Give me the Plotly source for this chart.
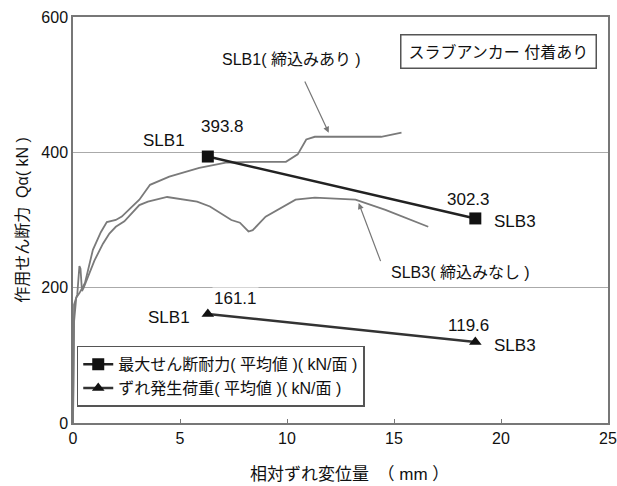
import plotly.graph_objects as go

# Load-slip curves
slb1_x = [0, 0.05, 0.15, 0.3, 0.56, 0.93, 1.3, 1.58, 2.0, 2.28, 2.7, 3.1, 3.6, 4.5, 5.9, 7.2, 8.5, 9.95, 10.5, 10.9, 11.3, 12.5, 14.4, 15.35]
slb1_q = [0, 150, 185, 192, 207, 256, 282, 297, 300, 305, 318, 330, 352, 364, 377, 385, 386, 386, 397, 419, 423, 423, 423, 429]

slb3_x = [0, 0.05, 0.2, 0.3, 0.35, 0.42, 0.5, 0.7, 1.0, 1.4, 1.7, 2.0, 2.4, 3.1, 3.5, 4.4, 5.8, 6.4, 7.4, 7.8, 8.2, 8.4, 9.0, 10.4, 11.3, 13.2, 14.6, 16.6]
slb3_q = [0, 175, 190, 232, 228, 195, 200, 215, 240, 265, 280, 290, 298, 322, 327, 334, 327, 320, 300, 296, 283, 285, 305, 330, 333, 330, 315, 290]

# Summary points
pt_x = [6.3, 18.8]
max_shear = [393.8, 302.3]
slip_load = [161.1, 119.6]
pt_names = ["SLB1", "SLB3"]

x_ticks = [0, 5, 10, 15, 20, 25]
y_ticks = [0, 200, 400, 600]

FONT = "Arial, Liberation Sans, Noto Sans CJK JP, sans-serif"

fig = go.Figure()
fig.add_trace(go.Scatter(x=slb1_x, y=slb1_q, mode="lines", line=dict(color="#7a7a7a", width=1.8), showlegend=False, hoverinfo="skip"))
fig.add_trace(go.Scatter(x=slb3_x, y=slb3_q, mode="lines", line=dict(color="#7a7a7a", width=1.8), showlegend=False, hoverinfo="skip"))
fig.add_trace(go.Scatter(x=pt_x, y=max_shear, mode="lines+markers", name="最大せん断耐力( 平均値 )( kN/面 )",
                         line=dict(color="#222222", width=2.5), marker=dict(symbol="square", size=12, color="#111111")))
fig.add_trace(go.Scatter(x=pt_x, y=slip_load, mode="lines+markers", name="ずれ発生荷重( 平均値 )( kN/面 )",
                         line=dict(color="#333333", width=2.5), marker=dict(symbol="triangle-up", size=11, color="#111111")))

ann = []
def a(x, y, text, size=17, **kw):
    d = dict(x=x, y=y, text=text, showarrow=False, font=dict(size=size, color="#111"), bgcolor="white")
    d.update(kw)
    ann.append(d)

a(pt_x[0], max_shear[0], f"{max_shear[0]}", xshift=15, yshift=30)
a(pt_x[0], max_shear[0], pt_names[0], xshift=-44, yshift=16)
a(pt_x[1], max_shear[1], f"{max_shear[1]}", xshift=-7, yshift=19, bgcolor="rgba(0,0,0,0)")
a(pt_x[1], max_shear[1], pt_names[1], xshift=40, yshift=-3, bgcolor="rgba(0,0,0,0)")
a(pt_x[0], slip_load[0], f"{slip_load[0]}", xshift=28, yshift=15)
a(pt_x[0], slip_load[0], pt_names[0], xshift=-39, yshift=-4)
a(pt_x[1], slip_load[1], f"{slip_load[1]}", xshift=-7, yshift=17, bgcolor="rgba(0,0,0,0)")
a(pt_x[1], slip_load[1], pt_names[1], xshift=40, yshift=-3, bgcolor="rgba(0,0,0,0)")

# curve labels with arrows
ann.append(dict(x=11.95, y=429, ax=10.8, ay=507, axref="x", ayref="y", text="", showarrow=True,
                arrowhead=2, arrowsize=1, arrowwidth=1.2, arrowcolor="#777"))
a(10.2, 537, "SLB1( 締込みあり )", size=16)
ann.append(dict(x=13.35, y=325, ax=14.4, ay=237, axref="x", ayref="y", text="", showarrow=True,
                arrowhead=2, arrowsize=1, arrowwidth=1.2, arrowcolor="#777"))
a(18.1, 222, "SLB3( 締込みなし )", size=16)

# boxed title
a(19.86, 549, "スラブアンカー 付着あり", size=16, bordercolor="#555", borderwidth=1.5, borderpad=7)

# x-axis title placed as paper annotation
a(0.517, -0.128, "相対ずれ変位量　（ mm ）", size=17, xref="paper", yref="paper",
  xanchor="center", yanchor="middle", bgcolor="rgba(0,0,0,0)")

fig.update_layout(
    annotations=ann,
    width=617, height=486,
    margin=dict(l=73, r=9, t=17, b=63),
    paper_bgcolor="white", plot_bgcolor="white",
    font=dict(family=FONT, size=16, color="#111"),
    xaxis=dict(range=[0, 25], tickvals=x_ticks, showgrid=False, zeroline=False, automargin=False,
               showline=True, mirror=True, linecolor="#777", linewidth=1.5, ticklabeloverflow="allow",
               ticks="inside", ticklen=4, tickcolor="#777", tickfont=dict(size=16)),
    yaxis=dict(range=[0, 600], tickvals=y_ticks, showgrid=True, gridcolor="#aaaaaa", gridwidth=1.2,
               zeroline=False, showline=True, mirror=True, linecolor="#777", linewidth=1.5, automargin=False,
               ticks="", tickfont=dict(size=16),
               title=dict(text="作用せん断力  Qα( kN )", font=dict(size=16), standoff=9)),
    legend=dict(x=0.007, y=0.04, xanchor="left", yanchor="bottom", bgcolor="white",
                bordercolor="#555", borderwidth=1.5, font=dict(size=16), tracegroupgap=0),
)

fig.write_html("out.html", config={"displayModeBar": False},
               post_script="document.body.style.margin='0';document.body.style.overflow='hidden';")
